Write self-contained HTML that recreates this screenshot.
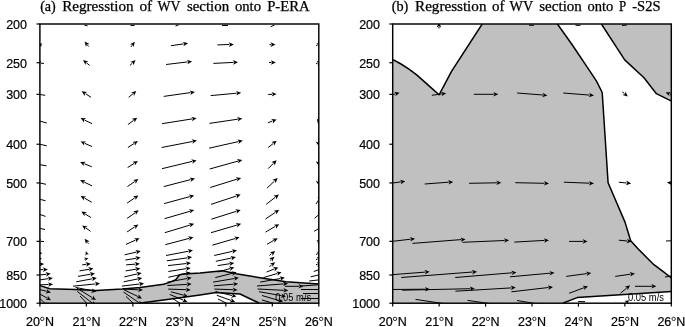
<!DOCTYPE html><html><head><meta charset="utf-8"><style>html,body{margin:0;padding:0;background:#fff;}svg{display:block;will-change:transform}</style></head><body>
<svg width="685" height="327" viewBox="0 0 685 327">
<defs>
<clipPath id="cl"><rect x="39.9" y="24.0" width="278.90000000000003" height="279.2"/></clipPath>
<clipPath id="cr"><rect x="392.7" y="24.0" width="278.59999999999997" height="279.2"/></clipPath>
</defs>
<rect x="0" y="0" width="685" height="327" fill="#fff"/>
<g clip-path="url(#cl)">
<polygon points="40.0,285.6 50.0,288.8 75.0,289.4 96.0,290.6 122.0,289.1 140.0,287.6 163.5,284.3 170.3,282.1 175.7,279.8 177.7,277.2 179.6,274.7 184.0,273.9 200.0,273.0 222.5,270.8 229.4,272.3 236.2,273.7 260.0,277.7 286.0,281.7 319.0,283.9 319.0,303.0 40.0,303.0" fill="#c0c0c0"/>
<polygon points="141.0,303.0 171.0,299.0 200.0,295.0 216.0,292.5 240.0,294.0 259.0,303.0" fill="#fff"/>
<polyline points="40.0,285.6 50.0,288.8 75.0,289.4 96.0,290.6 122.0,289.1 140.0,287.6 163.5,284.3 170.3,282.1 175.7,279.8 177.7,277.2 179.6,274.7 184.0,273.9 200.0,273.0 222.5,270.8 229.4,272.3 236.2,273.7 260.0,277.7 286.0,281.7 319.0,283.9" fill="none" stroke="#000" stroke-width="1.5" stroke-linejoin="round"/>
<polyline points="141.0,303.0 171.0,299.0 200.0,295.0 216.0,292.5 240.0,294.0 259.0,303.0" fill="none" stroke="#000" stroke-width="1.5" stroke-linejoin="round"/>
</g>
<g clip-path="url(#cr)">
<rect x="392.7" y="24.0" width="278.59999999999997" height="279.2" fill="#c0c0c0"/>
<polygon points="393.0,24.0 393.0,59.6 401.0,64.0 409.0,69.1 417.0,75.1 424.0,81.4 431.0,87.6 439.1,94.8 451.5,71.4 482.2,24.0" fill="#fff"/>
<polygon points="557.4,24.0 572.0,44.5 589.2,70.2 596.5,81.2 602.2,92.5 608.1,182.8 625.1,222.4 628.6,234.0 630.7,240.7 638.2,249.0 646.4,257.2 653.9,264.7 662.9,271.3 671.5,278.0 671.5,101.1 656.4,93.7 644.0,77.7 624.7,59.9 601.4,24.0" fill="#fff"/>
<polygon points="563.2,303.0 577.2,297.6 671.5,291.5 671.5,303.0" fill="#fff"/>
<polyline points="393.0,59.6 401.0,64.0 409.0,69.1 417.0,75.1 424.0,81.4 431.0,87.6 439.1,94.8 451.5,71.4 482.2,24.0" fill="none" stroke="#000" stroke-width="1.5" stroke-linejoin="round"/>
<polyline points="557.4,24.0 572.0,44.5 589.2,70.2 596.5,81.2 602.2,92.5 608.1,182.8 625.1,222.4 628.6,234.0 630.7,240.7 638.2,249.0 646.4,257.2 653.9,264.7 662.9,271.3 671.5,278.0" fill="none" stroke="#000" stroke-width="1.5" stroke-linejoin="round"/>
<polyline points="601.4,24.0 624.7,59.9 644.0,77.7 656.4,93.7 671.5,101.1" fill="none" stroke="#000" stroke-width="1.5" stroke-linejoin="round"/>
<polyline points="563.2,303.0 577.2,297.6 671.5,291.5" fill="none" stroke="#000" stroke-width="1.5" stroke-linejoin="round"/>
</g>
<g clip-path="url(#cl)">
<line x1="84.5" y1="25.3" x2="87.5" y2="25.8" stroke="#000" stroke-width="1"/>
<line x1="130.5" y1="25.5" x2="134.5" y2="25.5" stroke="#000" stroke-width="1"/>
<line x1="175.5" y1="26" x2="178.5" y2="25" stroke="#000" stroke-width="1"/>
<line x1="222" y1="25.5" x2="228" y2="25.5" stroke="#000" stroke-width="1"/>
<line x1="270.5" y1="26.8" x2="274.5" y2="25" stroke="#000" stroke-width="1"/>
<line x1="42.0" y1="45.2" x2="41.5" y2="45.1" stroke="#000" stroke-width="1.0"/><polygon points="38.0,44.0 42.6,43.4 41.0,44.9 41.4,47.0" fill="#000"/>
<line x1="88.6" y1="46.5" x2="87.4" y2="44.9" stroke="#000" stroke-width="1.0"/><polygon points="84.6,41.4 89.5,43.9 86.9,44.4 85.9,46.8" fill="#000"/>
<line x1="130.8" y1="47.0" x2="132.1" y2="45.3" stroke="#000" stroke-width="1.0"/><polygon points="134.8,41.7 133.6,47.1 132.5,44.7 130.0,44.3" fill="#000"/>
<line x1="170.9" y1="45.7" x2="183.6" y2="43.9" stroke="#000" stroke-width="1.0"/><polygon points="188.1,43.3 183.5,46.3 184.4,43.8 182.8,41.7" fill="#000"/>
<line x1="217.4" y1="44.9" x2="229.3" y2="44.5" stroke="#000" stroke-width="1.0"/><polygon points="233.8,44.4 228.9,46.9 230.1,44.5 228.7,42.3" fill="#000"/>
<line x1="269.5" y1="44.6" x2="271.0" y2="44.6" stroke="#000" stroke-width="1.0"/><polygon points="275.5,44.5 270.5,46.9 271.8,44.6 270.5,42.3" fill="#000"/>
<line x1="316.0" y1="45.5" x2="317.7" y2="44.9" stroke="#000" stroke-width="1.0"/><polygon points="322.0,43.5 318.0,47.3 318.4,44.7 316.5,42.9" fill="#000"/>
<line x1="44.0" y1="63.5" x2="40.5" y2="63.0" stroke="#000" stroke-width="1.0"/><polygon points="36.0,62.3 41.3,60.8 39.7,62.9 40.6,65.3" fill="#000"/>
<line x1="89.7" y1="65.4" x2="86.5" y2="62.9" stroke="#000" stroke-width="1.0"/><polygon points="83.0,60.1 88.3,61.4 85.9,62.4 85.5,65.0" fill="#000"/>
<line x1="130.0" y1="65.4" x2="132.3" y2="63.2" stroke="#000" stroke-width="1.0"/><polygon points="135.5,60.1 133.5,65.2 132.8,62.7 130.3,61.9" fill="#000"/>
<line x1="166.1" y1="64.5" x2="187.6" y2="61.9" stroke="#000" stroke-width="1.0"/><polygon points="192.1,61.4 187.4,64.3 188.4,61.8 186.9,59.7" fill="#000"/>
<line x1="213.4" y1="63.4" x2="233.5" y2="62.4" stroke="#000" stroke-width="1.0"/><polygon points="238.0,62.2 233.1,64.7 234.3,62.4 232.9,60.1" fill="#000"/>
<line x1="269.0" y1="62.5" x2="271.4" y2="62.5" stroke="#000" stroke-width="1.0"/><polygon points="275.9,62.5 270.9,64.8 272.1,62.5 270.9,60.2" fill="#000"/>
<line x1="316.0" y1="63.5" x2="317.6" y2="63.2" stroke="#000" stroke-width="1.0"/><polygon points="322.0,62.3 317.5,65.5 318.3,63.0 316.6,61.0" fill="#000"/>
<line x1="45.2" y1="95.3" x2="39.2" y2="94.4" stroke="#000" stroke-width="1.0"/><polygon points="34.8,93.7 40.1,92.2 38.5,94.3 39.4,96.7" fill="#000"/>
<line x1="91.0" y1="97.3" x2="85.5" y2="93.7" stroke="#000" stroke-width="1.0"/><polygon points="81.7,91.2 87.1,92.0 84.8,93.3 84.6,95.9" fill="#000"/>
<line x1="128.7" y1="97.3" x2="132.9" y2="93.8" stroke="#000" stroke-width="1.0"/><polygon points="136.3,90.9 134.0,95.9 133.4,93.3 131.0,92.4" fill="#000"/>
<line x1="163.7" y1="96.4" x2="190.5" y2="92.6" stroke="#000" stroke-width="1.0"/><polygon points="195.0,92.0 190.4,95.0 191.3,92.5 189.7,90.4" fill="#000"/>
<line x1="210.7" y1="95.6" x2="236.7" y2="93.2" stroke="#000" stroke-width="1.0"/><polygon points="241.2,92.8 236.4,95.5 237.5,93.1 236.0,91.0" fill="#000"/>
<line x1="268.2" y1="94.5" x2="272.1" y2="94.3" stroke="#000" stroke-width="1.0"/><polygon points="276.6,94.1 271.7,96.6 272.9,94.3 271.5,92.0" fill="#000"/>
<line x1="46.8" y1="123.0" x2="37.5" y2="120.4" stroke="#000" stroke-width="1.0"/><polygon points="33.2,119.2 38.6,118.3 36.8,120.2 37.4,122.8" fill="#000"/>
<line x1="92.1" y1="123.7" x2="84.6" y2="120.1" stroke="#000" stroke-width="1.0"/><polygon points="80.6,118.1 86.1,118.2 84.0,119.7 84.1,122.4" fill="#000"/>
<line x1="127.9" y1="124.6" x2="133.6" y2="120.4" stroke="#000" stroke-width="1.0"/><polygon points="137.2,117.7 134.6,122.5 134.2,119.9 131.8,118.8" fill="#000"/>
<line x1="162.0" y1="123.7" x2="192.2" y2="118.9" stroke="#000" stroke-width="1.0"/><polygon points="196.6,118.2 192.0,121.3 192.9,118.8 191.3,116.7" fill="#000"/>
<line x1="209.4" y1="123.4" x2="237.8" y2="119.2" stroke="#000" stroke-width="1.0"/><polygon points="242.3,118.5 237.7,121.5 238.6,119.1 237.0,117.0" fill="#000"/>
<line x1="267.9" y1="122.8" x2="272.4" y2="121.0" stroke="#000" stroke-width="1.0"/><polygon points="276.6,119.4 272.8,123.4 273.1,120.8 271.1,119.1" fill="#000"/>
<line x1="319.3" y1="117.5" x2="318.9" y2="119.6" stroke="#000" stroke-width="1.0"/><polygon points="318.0,124.0 316.7,118.6 318.7,120.3 321.2,119.5" fill="#000"/>
<line x1="46.8" y1="145.8" x2="37.6" y2="143.8" stroke="#000" stroke-width="1.0"/><polygon points="33.2,142.8 38.6,141.6 36.9,143.6 37.6,146.1" fill="#000"/>
<line x1="92.1" y1="146.6" x2="84.7" y2="143.3" stroke="#000" stroke-width="1.0"/><polygon points="80.6,141.4 86.1,141.4 84.0,142.9 84.2,145.6" fill="#000"/>
<line x1="127.9" y1="147.5" x2="134.1" y2="143.5" stroke="#000" stroke-width="1.0"/><polygon points="137.9,141.1 134.9,145.7 134.7,143.1 132.4,141.9" fill="#000"/>
<line x1="161.6" y1="147.5" x2="192.5" y2="141.5" stroke="#000" stroke-width="1.0"/><polygon points="196.9,140.6 192.4,143.8 193.2,141.3 191.6,139.3" fill="#000"/>
<line x1="209.1" y1="148.2" x2="238.4" y2="141.6" stroke="#000" stroke-width="1.0"/><polygon points="242.8,140.6 238.4,143.9 239.1,141.4 237.4,139.5" fill="#000"/>
<line x1="268.2" y1="147.5" x2="273.1" y2="143.6" stroke="#000" stroke-width="1.0"/><polygon points="276.6,140.8 274.1,145.7 273.7,143.1 271.3,142.1" fill="#000"/>
<line x1="318.8" y1="138.5" x2="318.8" y2="142.0" stroke="#000" stroke-width="1.0"/><polygon points="318.8,146.3 315.6,141.5 318.8,142.7 322.0,141.5" fill="#000"/>
<line x1="46.5" y1="165.8" x2="37.9" y2="164.4" stroke="#000" stroke-width="1.0"/><polygon points="33.5,163.6 38.8,162.2 37.2,164.2 38.0,166.7" fill="#000"/>
<line x1="91.8" y1="166.8" x2="84.3" y2="163.7" stroke="#000" stroke-width="1.0"/><polygon points="80.1,162.0 85.6,161.8 83.6,163.4 83.9,166.0" fill="#000"/>
<line x1="127.6" y1="167.6" x2="134.1" y2="163.4" stroke="#000" stroke-width="1.0"/><polygon points="137.9,161.0 134.9,165.6 134.7,163.0 132.4,161.8" fill="#000"/>
<line x1="162.0" y1="168.7" x2="192.2" y2="161.4" stroke="#000" stroke-width="1.0"/><polygon points="196.6,160.4 192.3,163.8 193.0,161.3 191.2,159.3" fill="#000"/>
<line x1="209.7" y1="169.0" x2="238.0" y2="161.1" stroke="#000" stroke-width="1.0"/><polygon points="242.3,159.9 238.1,163.5 238.7,160.9 236.9,159.0" fill="#000"/>
<line x1="268.2" y1="168.6" x2="273.4" y2="163.4" stroke="#000" stroke-width="1.0"/><polygon points="276.6,160.2 274.7,165.4 273.9,162.9 271.4,162.1" fill="#000"/>
<line x1="318.8" y1="158.5" x2="318.8" y2="161.7" stroke="#000" stroke-width="1.0"/><polygon points="318.8,166.0 315.8,161.2 318.8,162.4 321.8,161.2" fill="#000"/>
<line x1="46.0" y1="184.3" x2="38.4" y2="182.7" stroke="#000" stroke-width="1.0"/><polygon points="34.0,181.7 39.4,180.5 37.7,182.5 38.4,185.0" fill="#000"/>
<line x1="92.1" y1="185.9" x2="84.2" y2="182.1" stroke="#000" stroke-width="1.0"/><polygon points="80.1,180.1 85.6,180.2 83.5,181.7 83.6,184.3" fill="#000"/>
<line x1="127.4" y1="186.6" x2="134.7" y2="181.6" stroke="#000" stroke-width="1.0"/><polygon points="138.4,179.0 135.6,183.7 135.3,181.1 133.0,179.9" fill="#000"/>
<line x1="163.7" y1="186.6" x2="190.6" y2="179.6" stroke="#000" stroke-width="1.0"/><polygon points="195.0,178.5 190.7,182.0 191.4,179.4 189.6,177.5" fill="#000"/>
<line x1="210.2" y1="187.5" x2="236.9" y2="179.2" stroke="#000" stroke-width="1.0"/><polygon points="241.2,177.9 237.1,181.6 237.6,179.0 235.7,177.2" fill="#000"/>
<line x1="267.1" y1="188.0" x2="274.4" y2="181.2" stroke="#000" stroke-width="1.0"/><polygon points="277.7,178.1 275.6,183.2 275.0,180.7 272.5,179.8" fill="#000"/>
<line x1="318.8" y1="177.5" x2="318.8" y2="181.2" stroke="#000" stroke-width="1.0"/><polygon points="318.8,185.5 315.8,180.7 318.8,181.9 321.8,180.7" fill="#000"/>
<line x1="45.5" y1="200.7" x2="38.9" y2="199.1" stroke="#000" stroke-width="1.0"/><polygon points="34.5,198.1 39.9,197.0 38.1,199.0 38.8,201.5" fill="#000"/>
<line x1="91.8" y1="202.3" x2="84.5" y2="198.1" stroke="#000" stroke-width="1.0"/><polygon points="80.6,195.9 86.1,196.4 83.9,197.8 83.8,200.4" fill="#000"/>
<line x1="127.1" y1="203.1" x2="134.7" y2="197.9" stroke="#000" stroke-width="1.0"/><polygon points="138.4,195.4 135.6,200.1 135.3,197.5 133.0,196.3" fill="#000"/>
<line x1="164.1" y1="203.6" x2="189.9" y2="196.6" stroke="#000" stroke-width="1.0"/><polygon points="194.2,195.4 190.0,198.9 190.6,196.4 188.8,194.5" fill="#000"/>
<line x1="211.0" y1="204.4" x2="236.4" y2="196.0" stroke="#000" stroke-width="1.0"/><polygon points="240.7,194.6 236.7,198.4 237.1,195.8 235.2,194.0" fill="#000"/>
<line x1="266.2" y1="204.3" x2="275.3" y2="197.3" stroke="#000" stroke-width="1.0"/><polygon points="278.9,194.6 276.3,199.5 275.9,196.9 273.5,195.8" fill="#000"/>
<line x1="316.0" y1="204.0" x2="319.5" y2="198.7" stroke="#000" stroke-width="1.0"/><polygon points="322.0,195.0 321.1,200.4 319.9,198.1 317.3,197.9" fill="#000"/>
<line x1="45.5" y1="216.4" x2="38.8" y2="214.1" stroke="#000" stroke-width="1.0"/><polygon points="34.5,212.6 40.0,212.1 38.0,213.8 38.5,216.4" fill="#000"/>
<line x1="91.0" y1="217.6" x2="85.2" y2="214.0" stroke="#000" stroke-width="1.0"/><polygon points="81.4,211.6 86.9,212.3 84.6,213.6 84.4,216.2" fill="#000"/>
<line x1="127.1" y1="218.4" x2="135.0" y2="212.9" stroke="#000" stroke-width="1.0"/><polygon points="138.7,210.3 135.9,215.0 135.6,212.4 133.3,211.3" fill="#000"/>
<line x1="164.5" y1="218.7" x2="189.9" y2="211.3" stroke="#000" stroke-width="1.0"/><polygon points="194.2,210.0 190.0,213.6 190.6,211.1 188.8,209.2" fill="#000"/>
<line x1="211.3" y1="219.2" x2="236.4" y2="211.3" stroke="#000" stroke-width="1.0"/><polygon points="240.7,210.0 236.6,213.7 237.1,211.1 235.2,209.3" fill="#000"/>
<line x1="265.5" y1="219.0" x2="275.5" y2="212.3" stroke="#000" stroke-width="1.0"/><polygon points="279.2,209.8 276.3,214.5 276.1,211.9 273.8,210.7" fill="#000"/>
<line x1="314.5" y1="218.3" x2="320.1" y2="213.6" stroke="#000" stroke-width="1.0"/><polygon points="323.5,210.7 321.2,215.7 320.6,213.1 318.2,212.2" fill="#000"/>
<line x1="45.0" y1="229.5" x2="39.4" y2="228.3" stroke="#000" stroke-width="1.0"/><polygon points="35.0,227.3 40.4,226.1 38.7,228.1 39.4,230.6" fill="#000"/>
<line x1="90.7" y1="231.4" x2="85.9" y2="228.0" stroke="#000" stroke-width="1.0"/><polygon points="82.2,225.4 87.6,226.4 85.3,227.6 85.0,230.2" fill="#000"/>
<line x1="127.1" y1="231.9" x2="134.6" y2="227.0" stroke="#000" stroke-width="1.0"/><polygon points="138.4,224.6 135.4,229.2 135.3,226.6 133.0,225.4" fill="#000"/>
<line x1="164.8" y1="232.7" x2="189.9" y2="225.1" stroke="#000" stroke-width="1.0"/><polygon points="194.2,223.8 190.1,227.5 190.6,224.9 188.7,223.0" fill="#000"/>
<line x1="211.0" y1="232.7" x2="236.9" y2="225.1" stroke="#000" stroke-width="1.0"/><polygon points="241.2,223.8 237.1,227.4 237.6,224.9 235.8,223.0" fill="#000"/>
<line x1="265.5" y1="232.1" x2="275.3" y2="226.4" stroke="#000" stroke-width="1.0"/><polygon points="279.2,224.2 276.0,228.7 276.0,226.1 273.7,224.7" fill="#000"/>
<line x1="314.1" y1="231.3" x2="320.0" y2="227.8" stroke="#000" stroke-width="1.0"/><polygon points="323.9,225.5 320.8,230.0 320.7,227.4 318.4,226.1" fill="#000"/>
<line x1="44.0" y1="241.5" x2="40.5" y2="241.3" stroke="#000" stroke-width="1.0"/><polygon points="36.0,241.1 41.1,239.1 39.7,241.3 40.9,243.6" fill="#000"/>
<line x1="88.6" y1="243.6" x2="87.5" y2="242.3" stroke="#000" stroke-width="1.0"/><polygon points="84.6,238.8 89.6,241.2 87.0,241.7 86.0,244.1" fill="#000"/>
<line x1="126.0" y1="244.4" x2="135.4" y2="240.2" stroke="#000" stroke-width="1.0"/><polygon points="139.5,238.3 135.9,242.5 136.1,239.8 134.0,238.3" fill="#000"/>
<line x1="165.3" y1="244.7" x2="189.1" y2="238.4" stroke="#000" stroke-width="1.0"/><polygon points="193.4,237.2 189.2,240.7 189.8,238.2 188.0,236.3" fill="#000"/>
<line x1="212.3" y1="245.2" x2="235.3" y2="238.5" stroke="#000" stroke-width="1.0"/><polygon points="239.6,237.2 235.4,240.8 236.0,238.3 234.2,236.4" fill="#000"/>
<line x1="267.0" y1="244.3" x2="273.8" y2="240.4" stroke="#000" stroke-width="1.0"/><polygon points="277.7,238.2 274.5,242.7 274.4,240.1 272.2,238.7" fill="#000"/>
<line x1="317.0" y1="242.0" x2="317.5" y2="241.8" stroke="#000" stroke-width="1.0"/><polygon points="321.0,240.5 317.7,243.8 318.0,241.6 316.3,240.2" fill="#000"/>
<line x1="37.5" y1="253.2" x2="38.0" y2="253.2" stroke="#000" stroke-width="1.0"/><polygon points="42.5,253.2 37.5,255.5 38.8,253.2 37.5,250.9" fill="#000"/>
<line x1="87.2" y1="255.0" x2="87.0" y2="254.6" stroke="#000" stroke-width="1.0"/><polygon points="85.8,251.3 88.9,254.4 86.9,254.1 85.5,255.7" fill="#000"/>
<line x1="124.7" y1="254.8" x2="136.4" y2="252.1" stroke="#000" stroke-width="1.0"/><polygon points="140.8,251.1 136.4,254.5 137.1,251.9 135.4,250.0" fill="#000"/>
<line x1="166.1" y1="255.5" x2="188.6" y2="251.2" stroke="#000" stroke-width="1.0"/><polygon points="193.0,250.3 188.5,253.5 189.3,251.0 187.7,249.0" fill="#000"/>
<line x1="214.2" y1="255.5" x2="232.6" y2="251.3" stroke="#000" stroke-width="1.0"/><polygon points="237.0,250.3 232.6,253.7 233.3,251.1 231.6,249.2" fill="#000"/>
<line x1="269.4" y1="255.4" x2="271.6" y2="253.7" stroke="#000" stroke-width="1.0"/><polygon points="275.2,251.0 272.6,255.9 272.2,253.3 269.8,252.2" fill="#000"/>
<line x1="316.0" y1="254.5" x2="317.8" y2="253.7" stroke="#000" stroke-width="1.0"/><polygon points="322.0,252.0 318.3,256.0 318.5,253.4 316.5,251.8" fill="#000"/>
<line x1="38.0" y1="259.0" x2="38.5" y2="258.9" stroke="#000" stroke-width="1.0"/><polygon points="42.0,258.5 38.2,260.8 39.0,258.9 37.8,257.2" fill="#000"/>
<line x1="84.6" y1="259.2" x2="85.0" y2="259.1" stroke="#000" stroke-width="1.0"/><polygon points="88.4,258.2 85.0,261.0 85.5,259.0 84.1,257.4" fill="#000"/>
<line x1="125.4" y1="260.0" x2="136.2" y2="258.3" stroke="#000" stroke-width="1.0"/><polygon points="140.6,257.6 136.0,260.7 136.9,258.2 135.3,256.1" fill="#000"/>
<line x1="166.9" y1="260.8" x2="187.6" y2="257.8" stroke="#000" stroke-width="1.0"/><polygon points="192.1,257.1 187.5,260.1 188.4,257.6 186.8,255.6" fill="#000"/>
<line x1="215.8" y1="261.3" x2="231.5" y2="258.0" stroke="#000" stroke-width="1.0"/><polygon points="235.9,257.1 231.5,260.4 232.2,257.9 230.5,255.9" fill="#000"/>
<line x1="270.0" y1="260.5" x2="271.0" y2="259.7" stroke="#000" stroke-width="1.0"/><polygon points="274.5,256.8 272.1,261.8 271.6,259.2 269.2,258.2" fill="#000"/>
<line x1="316.0" y1="259.5" x2="317.6" y2="259.1" stroke="#000" stroke-width="1.0"/><polygon points="322.0,258.0 317.7,261.4 318.4,258.9 316.6,257.0" fill="#000"/>
<line x1="35.8" y1="264.5" x2="39.7" y2="264.3" stroke="#000" stroke-width="1.0"/><polygon points="44.2,264.1 39.3,266.6 40.5,264.3 39.1,262.0" fill="#000"/>
<line x1="82.2" y1="264.9" x2="86.3" y2="264.3" stroke="#000" stroke-width="1.0"/><polygon points="90.8,263.7 86.2,266.7 87.1,264.2 85.5,262.1" fill="#000"/>
<line x1="126.1" y1="264.9" x2="135.4" y2="264.1" stroke="#000" stroke-width="1.0"/><polygon points="139.9,263.7 135.1,266.4 136.2,264.0 134.7,261.8" fill="#000"/>
<line x1="168.0" y1="265.6" x2="186.5" y2="263.5" stroke="#000" stroke-width="1.0"/><polygon points="191.0,263.0 186.3,265.8 187.3,263.4 185.8,261.3" fill="#000"/>
<line x1="217.7" y1="265.6" x2="229.9" y2="263.7" stroke="#000" stroke-width="1.0"/><polygon points="234.3,263.0 229.7,266.0 230.6,263.6 229.0,261.5" fill="#000"/>
<line x1="269.4" y1="266.6" x2="271.6" y2="265.0" stroke="#000" stroke-width="1.0"/><polygon points="275.2,262.3 272.6,267.1 272.2,264.5 269.8,263.4" fill="#000"/>
<line x1="316.0" y1="264.5" x2="317.5" y2="264.4" stroke="#000" stroke-width="1.0"/><polygon points="322.0,264.0 317.2,266.7 318.3,264.3 316.8,262.1" fill="#000"/>
<line x1="32.1" y1="270.0" x2="43.4" y2="269.6" stroke="#000" stroke-width="1.0"/><polygon points="47.9,269.4 43.0,271.9 44.2,269.5 42.8,267.3" fill="#000"/>
<line x1="79.5" y1="270.9" x2="89.1" y2="269.3" stroke="#000" stroke-width="1.0"/><polygon points="93.5,268.5 89.0,271.6 89.8,269.1 88.2,267.1" fill="#000"/>
<line x1="125.6" y1="270.9" x2="136.0" y2="269.2" stroke="#000" stroke-width="1.0"/><polygon points="140.4,268.5 135.8,271.6 136.7,269.1 135.1,267.0" fill="#000"/>
<line x1="168.3" y1="271.5" x2="186.3" y2="268.6" stroke="#000" stroke-width="1.0"/><polygon points="190.7,267.9 186.1,271.0 187.0,268.5 185.4,266.4" fill="#000"/>
<line x1="217.7" y1="272.0" x2="230.0" y2="268.6" stroke="#000" stroke-width="1.0"/><polygon points="234.3,267.4 230.1,271.0 230.7,268.4 228.9,266.5" fill="#000"/>
<line x1="266.6" y1="272.0" x2="274.2" y2="269.0" stroke="#000" stroke-width="1.0"/><polygon points="278.4,267.4 274.6,271.4 274.9,268.8 272.9,267.1" fill="#000"/>
<line x1="313.8" y1="271.5" x2="319.9" y2="269.4" stroke="#000" stroke-width="1.0"/><polygon points="324.2,268.0 320.2,271.8 320.6,269.2 318.7,267.4" fill="#000"/>
<line x1="29.2" y1="276.0" x2="46.3" y2="274.3" stroke="#000" stroke-width="1.0"/><polygon points="50.8,273.8 46.1,276.6 47.1,274.2 45.6,272.0" fill="#000"/>
<line x1="78.0" y1="276.4" x2="90.6" y2="274.2" stroke="#000" stroke-width="1.0"/><polygon points="95.0,273.4 90.5,276.5 91.3,274.1 89.7,272.0" fill="#000"/>
<line x1="124.3" y1="276.9" x2="137.3" y2="273.9" stroke="#000" stroke-width="1.0"/><polygon points="141.7,272.9 137.3,276.3 138.0,273.7 136.3,271.8" fill="#000"/>
<line x1="168.3" y1="277.3" x2="186.3" y2="273.4" stroke="#000" stroke-width="1.0"/><polygon points="190.7,272.5 186.3,275.8 187.0,273.3 185.3,271.3" fill="#000"/>
<line x1="215.3" y1="277.6" x2="232.3" y2="273.3" stroke="#000" stroke-width="1.0"/><polygon points="236.7,272.2 232.4,275.7 233.1,273.1 231.3,271.2" fill="#000"/>
<line x1="263.4" y1="277.6" x2="277.3" y2="273.5" stroke="#000" stroke-width="1.0"/><polygon points="281.6,272.2 277.5,275.8 278.0,273.3 276.2,271.4" fill="#000"/>
<line x1="310.7" y1="276.8" x2="322.9" y2="274.0" stroke="#000" stroke-width="1.0"/><polygon points="327.3,273.0 322.9,276.4 323.6,273.8 321.9,271.9" fill="#000"/>
<line x1="27.1" y1="281.9" x2="48.5" y2="278.6" stroke="#000" stroke-width="1.0"/><polygon points="52.9,277.9 48.3,280.9 49.2,278.5 47.6,276.4" fill="#000"/>
<line x1="76.2" y1="281.8" x2="92.4" y2="278.8" stroke="#000" stroke-width="1.0"/><polygon points="96.8,278.0 92.3,281.2 93.1,278.7 91.5,276.6" fill="#000"/>
<line x1="123.7" y1="281.8" x2="137.9" y2="278.9" stroke="#000" stroke-width="1.0"/><polygon points="142.3,278.0 137.9,281.3 138.6,278.8 136.9,276.7" fill="#000"/>
<line x1="167.4" y1="282.1" x2="187.2" y2="278.5" stroke="#000" stroke-width="1.0"/><polygon points="191.6,277.7 187.1,280.9 187.9,278.4 186.3,276.3" fill="#000"/>
<line x1="213.1" y1="282.1" x2="234.5" y2="278.5" stroke="#000" stroke-width="1.0"/><polygon points="238.9,277.7 234.4,280.8 235.2,278.3 233.6,276.3" fill="#000"/>
<line x1="260.1" y1="282.1" x2="280.5" y2="278.5" stroke="#000" stroke-width="1.0"/><polygon points="284.9,277.7 280.4,280.8 281.2,278.4 279.6,276.3" fill="#000"/>
<line x1="309.2" y1="281.0" x2="324.3" y2="279.3" stroke="#000" stroke-width="1.0"/><polygon points="328.8,278.8 324.1,281.6 325.1,279.2 323.6,277.1" fill="#000"/>
<line x1="26.9" y1="285.3" x2="48.6" y2="284.5" stroke="#000" stroke-width="1.0"/><polygon points="53.1,284.3 48.2,286.8 49.4,284.4 48.0,282.2" fill="#000"/>
<line x1="73.0" y1="286.2" x2="95.5" y2="283.9" stroke="#000" stroke-width="1.0"/><polygon points="100.0,283.4 95.3,286.2 96.3,283.8 94.8,281.6" fill="#000"/>
<line x1="121.9" y1="286.1" x2="139.6" y2="284.0" stroke="#000" stroke-width="1.0"/><polygon points="144.1,283.5 139.4,286.4 140.4,283.9 138.9,281.8" fill="#000"/>
<line x1="167.4" y1="285.5" x2="187.1" y2="284.4" stroke="#000" stroke-width="1.0"/><polygon points="191.6,284.1 186.7,286.7 187.9,284.3 186.5,282.1" fill="#000"/>
<line x1="213.8" y1="285.8" x2="233.7" y2="284.2" stroke="#000" stroke-width="1.0"/><polygon points="238.2,283.8 233.4,286.5 234.5,284.1 233.0,281.9" fill="#000"/>
<line x1="257.0" y1="286.0" x2="283.5" y2="283.9" stroke="#000" stroke-width="1.0"/><polygon points="288.0,283.5 283.2,286.2 284.3,283.8 282.8,281.6" fill="#000"/>
<line x1="301.0" y1="286.0" x2="332.5" y2="283.9" stroke="#000" stroke-width="1.0"/><polygon points="337.0,283.6 332.2,286.2 333.3,283.8 331.9,281.6" fill="#000"/>
<line x1="29.0" y1="286.8" x2="46.6" y2="291.3" stroke="#000" stroke-width="1.0"/><polygon points="51.0,292.4 45.6,293.4 47.4,291.5 46.7,288.9" fill="#000"/>
<line x1="75.5" y1="287.4" x2="92.1" y2="290.7" stroke="#000" stroke-width="1.0"/><polygon points="96.5,291.6 91.1,292.9 92.8,290.9 92.0,288.4" fill="#000"/>
<line x1="123.0" y1="289.0" x2="138.5" y2="289.8" stroke="#000" stroke-width="1.0"/><polygon points="143.0,290.0 137.9,292.0 139.3,289.8 138.1,287.5" fill="#000"/>
<line x1="168.2" y1="289.1" x2="186.3" y2="289.7" stroke="#000" stroke-width="1.0"/><polygon points="190.8,289.9 185.7,292.0 187.1,289.8 185.9,287.4" fill="#000"/>
<line x1="214.4" y1="289.1" x2="233.1" y2="289.7" stroke="#000" stroke-width="1.0"/><polygon points="237.6,289.9 232.5,292.0 233.9,289.8 232.7,287.4" fill="#000"/>
<line x1="257.6" y1="289.0" x2="283.8" y2="290.3" stroke="#000" stroke-width="1.0"/><polygon points="288.3,290.5 283.2,292.6 284.6,290.3 283.4,288.0" fill="#000"/>
<line x1="301.0" y1="289.5" x2="332.5" y2="289.5" stroke="#000" stroke-width="1.0"/><polygon points="337.0,289.5 332.0,291.8 333.2,289.5 332.0,287.2" fill="#000"/>
<line x1="29.0" y1="287.9" x2="47.1" y2="298.1" stroke="#000" stroke-width="1.0"/><polygon points="51.0,300.3 45.5,299.8 47.7,298.5 47.8,295.8" fill="#000"/>
<line x1="77.0" y1="288.2" x2="92.2" y2="297.6" stroke="#000" stroke-width="1.0"/><polygon points="96.0,300.0 90.5,299.3 92.8,298.0 93.0,295.4" fill="#000"/>
<line x1="124.0" y1="289.8" x2="137.9" y2="296.5" stroke="#000" stroke-width="1.0"/><polygon points="142.0,298.4 136.5,298.3 138.6,296.8 138.5,294.2" fill="#000"/>
<line x1="170.9" y1="291.8" x2="183.8" y2="295.2" stroke="#000" stroke-width="1.0"/><polygon points="188.1,296.4 182.7,297.3 184.5,295.4 183.9,292.9" fill="#000"/>
<line x1="215.6" y1="291.6" x2="232.0" y2="295.5" stroke="#000" stroke-width="1.0"/><polygon points="236.4,296.6 231.0,297.7 232.8,295.7 232.1,293.2" fill="#000"/>
<line x1="259.0" y1="291.7" x2="281.6" y2="295.7" stroke="#000" stroke-width="1.0"/><polygon points="286.0,296.5 280.7,297.9 282.3,295.8 281.5,293.4" fill="#000"/>
<line x1="303.0" y1="293.5" x2="332.5" y2="293.5" stroke="#000" stroke-width="1.0"/><polygon points="337.0,293.5 332.0,295.8 333.2,293.5 332.0,291.2" fill="#000"/>
<line x1="31.0" y1="290.1" x2="45.7" y2="304.0" stroke="#000" stroke-width="1.0"/><polygon points="49.0,307.1 43.8,305.3 46.3,304.5 46.9,302.0" fill="#000"/>
<line x1="77.2" y1="291.4" x2="92.2" y2="303.0" stroke="#000" stroke-width="1.0"/><polygon points="95.8,305.8 90.4,304.6 92.8,303.5 93.3,300.9" fill="#000"/>
<line x1="123.5" y1="292.0" x2="138.8" y2="302.6" stroke="#000" stroke-width="1.0"/><polygon points="142.5,305.2 137.1,304.2 139.4,303.1 139.7,300.5" fill="#000"/>
<line x1="169.7" y1="294.4" x2="183.4" y2="300.2" stroke="#000" stroke-width="1.0"/><polygon points="187.5,302.0 182.0,302.2 184.1,300.5 183.8,297.9" fill="#000"/>
<line x1="216.8" y1="295.3" x2="231.0" y2="300.4" stroke="#000" stroke-width="1.0"/><polygon points="235.2,301.9 229.7,302.4 231.7,300.6 231.3,298.0" fill="#000"/>
<line x1="262.0" y1="295.5" x2="278.7" y2="300.4" stroke="#000" stroke-width="1.0"/><polygon points="283.0,301.7 277.6,302.5 279.4,300.6 278.9,298.1" fill="#000"/>
<line x1="301.0" y1="298.5" x2="332.5" y2="298.5" stroke="#000" stroke-width="1.0"/><polygon points="337.0,298.5 332.0,300.8 333.2,298.5 332.0,296.2" fill="#000"/>
<line x1="33.0" y1="296.0" x2="43.8" y2="306.8" stroke="#000" stroke-width="1.0"/><polygon points="47.0,310.0 41.8,308.1 44.3,307.3 45.1,304.8" fill="#000"/>
<line x1="80.0" y1="296.0" x2="89.9" y2="306.7" stroke="#000" stroke-width="1.0"/><polygon points="93.0,310.0 87.9,307.9 90.4,307.3 91.3,304.8" fill="#000"/>
<line x1="126.0" y1="296.5" x2="136.7" y2="306.4" stroke="#000" stroke-width="1.0"/><polygon points="140.0,309.5 134.8,307.8 137.3,306.9 137.9,304.4" fill="#000"/>
<line x1="172.0" y1="298.0" x2="183.3" y2="305.5" stroke="#000" stroke-width="1.0"/><polygon points="187.0,308.0 181.6,307.1 183.9,305.9 184.1,303.3" fill="#000"/>
<line x1="218.0" y1="299.0" x2="230.0" y2="305.0" stroke="#000" stroke-width="1.0"/><polygon points="234.0,307.0 228.5,306.8 230.6,305.3 230.6,302.7" fill="#000"/>
<line x1="262.0" y1="300.0" x2="278.7" y2="304.8" stroke="#000" stroke-width="1.0"/><polygon points="283.0,306.0 277.6,306.8 279.4,305.0 278.8,302.4" fill="#000"/>
<line x1="285.0" y1="286.3" x2="299.0" y2="286.3" stroke="#000" stroke-width="1.0"/><polygon points="303.5,286.3 298.5,288.6 299.8,286.3 298.5,284.0" fill="#000"/>
</g>
<g clip-path="url(#cr)">
<line x1="439.0" y1="28.5" x2="439.0" y2="27.0" stroke="#000" stroke-width="1.0"/><polygon points="439.0,22.5 441.3,27.5 439.0,26.2 436.7,27.5" fill="#000"/>
<line x1="529" y1="25.3" x2="534" y2="25.3" stroke="#000" stroke-width="1"/>
<line x1="575.5" y1="25.3" x2="580.5" y2="25.3" stroke="#000" stroke-width="1"/>
<line x1="622" y1="25.5" x2="627" y2="25" stroke="#000" stroke-width="1"/>
<line x1="386.4" y1="96.3" x2="395.3" y2="93.9" stroke="#000" stroke-width="1.0"/><polygon points="399.6,92.7 395.4,96.2 396.0,93.7 394.2,91.8" fill="#000"/>
<line x1="431.9" y1="95.3" x2="441.7" y2="93.9" stroke="#000" stroke-width="1.0"/><polygon points="446.2,93.3 441.6,96.3 442.5,93.8 440.9,91.7" fill="#000"/>
<line x1="473.8" y1="94.3" x2="493.8" y2="94.3" stroke="#000" stroke-width="1.0"/><polygon points="498.3,94.3 493.3,96.6 494.6,94.3 493.3,92.0" fill="#000"/>
<line x1="517.1" y1="93.0" x2="542.9" y2="95.0" stroke="#000" stroke-width="1.0"/><polygon points="547.4,95.4 542.2,97.3 543.7,95.1 542.6,92.7" fill="#000"/>
<line x1="563.2" y1="93.0" x2="589.5" y2="95.1" stroke="#000" stroke-width="1.0"/><polygon points="594.0,95.4 588.8,97.3 590.3,95.1 589.2,92.7" fill="#000"/>
<line x1="622.3" y1="91.8" x2="624.4" y2="93.6" stroke="#000" stroke-width="1.0"/><polygon points="627.8,96.6 622.5,95.0 625.0,94.1 625.5,91.6" fill="#000"/>
<line x1="677.0" y1="96.5" x2="669.8" y2="94.0" stroke="#000" stroke-width="1.0"/><polygon points="665.5,92.5 671.0,92.0 669.0,93.7 669.5,96.3" fill="#000"/>
<line x1="380.7" y1="184.7" x2="400.8" y2="181.9" stroke="#000" stroke-width="1.0"/><polygon points="405.3,181.3 400.7,184.3 401.6,181.8 400.0,179.7" fill="#000"/>
<line x1="424.7" y1="184.0" x2="448.8" y2="182.2" stroke="#000" stroke-width="1.0"/><polygon points="453.3,181.9 448.5,184.6 449.6,182.2 448.1,180.0" fill="#000"/>
<line x1="469.1" y1="183.3" x2="496.9" y2="182.8" stroke="#000" stroke-width="1.0"/><polygon points="501.4,182.7 496.4,185.1 497.7,182.8 496.4,180.5" fill="#000"/>
<line x1="515.2" y1="182.7" x2="544.5" y2="183.3" stroke="#000" stroke-width="1.0"/><polygon points="549.0,183.4 544.0,185.6 545.3,183.3 544.0,181.0" fill="#000"/>
<line x1="563.9" y1="182.2" x2="589.5" y2="183.2" stroke="#000" stroke-width="1.0"/><polygon points="594.0,183.4 588.9,185.5 590.3,183.3 589.1,180.9" fill="#000"/>
<line x1="618.8" y1="182.2" x2="626.6" y2="183.0" stroke="#000" stroke-width="1.0"/><polygon points="631.1,183.4 625.9,185.2 627.4,183.0 626.3,180.6" fill="#000"/>
<line x1="676.0" y1="183.5" x2="671.5" y2="183.0" stroke="#000" stroke-width="1.0"/><polygon points="667.0,182.5 672.2,180.8 670.7,182.9 671.7,185.3" fill="#000"/>
<line x1="370.9" y1="243.9" x2="410.6" y2="239.2" stroke="#000" stroke-width="1.0"/><polygon points="415.1,238.7 410.4,241.6 411.4,239.1 409.9,237.0" fill="#000"/>
<line x1="412.5" y1="243.4" x2="461.1" y2="239.6" stroke="#000" stroke-width="1.0"/><polygon points="465.6,239.3 460.8,242.0 461.9,239.6 460.4,237.4" fill="#000"/>
<line x1="462.5" y1="242.3" x2="504.6" y2="240.5" stroke="#000" stroke-width="1.0"/><polygon points="509.1,240.3 504.2,242.8 505.4,240.5 504.0,238.2" fill="#000"/>
<line x1="514.3" y1="242.1" x2="544.5" y2="240.4" stroke="#000" stroke-width="1.0"/><polygon points="549.0,240.2 544.1,242.8 545.3,240.4 543.9,238.2" fill="#000"/>
<line x1="569.1" y1="241.4" x2="583.1" y2="241.4" stroke="#000" stroke-width="1.0"/><polygon points="587.6,241.4 582.6,243.7 583.9,241.4 582.6,239.1" fill="#000"/>
<line x1="618.8" y1="240.2" x2="627.3" y2="241.0" stroke="#000" stroke-width="1.0"/><polygon points="631.8,241.4 626.6,243.2 628.1,241.1 627.0,238.7" fill="#000"/>
<line x1="666.0" y1="241.0" x2="672.5" y2="240.7" stroke="#000" stroke-width="1.0"/><polygon points="677.0,240.5 672.1,243.0 673.3,240.7 671.9,238.4" fill="#000"/>
<line x1="356.3" y1="277.5" x2="425.2" y2="272.1" stroke="#000" stroke-width="1.0"/><polygon points="429.7,271.7 424.9,274.4 426.0,272.0 424.5,269.8" fill="#000"/>
<line x1="401.2" y1="277.5" x2="472.6" y2="272.0" stroke="#000" stroke-width="1.0"/><polygon points="477.1,271.7 472.3,274.4 473.4,272.0 471.9,269.8" fill="#000"/>
<line x1="455.2" y1="277.5" x2="512.0" y2="272.8" stroke="#000" stroke-width="1.0"/><polygon points="516.5,272.4 511.7,275.1 512.8,272.7 511.3,270.5" fill="#000"/>
<line x1="510.0" y1="276.8" x2="550.0" y2="273.2" stroke="#000" stroke-width="1.0"/><polygon points="554.5,272.8 549.7,275.5 550.8,273.1 549.3,271.0" fill="#000"/>
<line x1="566.2" y1="276.4" x2="586.8" y2="273.6" stroke="#000" stroke-width="1.0"/><polygon points="591.3,273.0 586.7,276.0 587.6,273.5 586.0,271.4" fill="#000"/>
<line x1="615.2" y1="276.4" x2="630.5" y2="274.2" stroke="#000" stroke-width="1.0"/><polygon points="635.0,273.6 630.4,276.6 631.3,274.1 629.7,272.0" fill="#000"/>
<line x1="665.0" y1="277.0" x2="673.6" y2="275.7" stroke="#000" stroke-width="1.0"/><polygon points="678.0,275.0 673.4,278.0 674.3,275.6 672.7,273.5" fill="#000"/>
<line x1="356.0" y1="289.8" x2="425.5" y2="289.2" stroke="#000" stroke-width="1.0"/><polygon points="430.0,289.2 425.0,291.5 426.3,289.2 425.0,286.9" fill="#000"/>
<line x1="402.2" y1="290.2" x2="470.3" y2="288.7" stroke="#000" stroke-width="1.0"/><polygon points="474.8,288.6 469.9,291.0 471.1,288.7 469.8,286.4" fill="#000"/>
<line x1="455.4" y1="291.2" x2="511.3" y2="287.9" stroke="#000" stroke-width="1.0"/><polygon points="515.8,287.6 510.9,290.2 512.1,287.8 510.7,285.6" fill="#000"/>
<line x1="511.4" y1="291.8" x2="548.5" y2="287.5" stroke="#000" stroke-width="1.0"/><polygon points="553.0,287.0 548.3,289.9 549.3,287.4 547.8,285.3" fill="#000"/>
<line x1="569.1" y1="293.3" x2="583.8" y2="287.8" stroke="#000" stroke-width="1.0"/><polygon points="588.0,286.2 584.1,290.1 584.5,287.5 582.5,285.8" fill="#000"/>
<line x1="620.5" y1="293.2" x2="626.6" y2="288.2" stroke="#000" stroke-width="1.0"/><polygon points="630.1,285.3 627.7,290.3 627.2,287.7 624.8,286.7" fill="#000"/>
<line x1="415.5" y1="299.4" x2="458.9" y2="305.9" stroke="#000" stroke-width="1.0"/><polygon points="463.3,306.6 458.0,308.1 459.6,306.0 458.7,303.6" fill="#000"/>
<line x1="467.6" y1="300.4" x2="499.5" y2="305.0" stroke="#000" stroke-width="1.0"/><polygon points="504.0,305.6 498.7,307.2 500.3,305.1 499.4,302.6" fill="#000"/>
<line x1="517.0" y1="300.5" x2="542.6" y2="304.8" stroke="#000" stroke-width="1.0"/><polygon points="547.0,305.5 541.7,306.9 543.3,304.9 542.4,302.4" fill="#000"/>
<line x1="578" y1="301.6" x2="585" y2="301.6" stroke="#000" stroke-width="1"/>
<line x1="624.5" y1="304.0" x2="626.3" y2="302.5" stroke="#000" stroke-width="1.0"/><polygon points="629.0,300.3 627.4,304.6 626.7,302.2 624.4,301.1" fill="#000"/>
<line x1="635.0" y1="286.3" x2="651.9" y2="286.3" stroke="#000" stroke-width="1.0"/><polygon points="656.4,286.3 651.4,288.6 652.6,286.3 651.4,284.0" fill="#000"/>
</g>
<rect x="39.9" y="24.0" width="278.90000000000003" height="279.2" fill="none" stroke="#000" stroke-width="1.45"/>
<line x1="36.5" y1="24.00" x2="39.9" y2="24.00" stroke="#000" stroke-width="1.2"/>
<line x1="36.5" y1="62.71" x2="39.9" y2="62.71" stroke="#000" stroke-width="1.2"/>
<line x1="36.5" y1="94.34" x2="39.9" y2="94.34" stroke="#000" stroke-width="1.2"/>
<line x1="36.5" y1="144.24" x2="39.9" y2="144.24" stroke="#000" stroke-width="1.2"/>
<line x1="36.5" y1="182.96" x2="39.9" y2="182.96" stroke="#000" stroke-width="1.2"/>
<line x1="36.5" y1="241.33" x2="39.9" y2="241.33" stroke="#000" stroke-width="1.2"/>
<line x1="36.5" y1="275.01" x2="39.9" y2="275.01" stroke="#000" stroke-width="1.2"/>
<line x1="36.5" y1="303.20" x2="39.9" y2="303.20" stroke="#000" stroke-width="1.2"/>
<line x1="39.90" y1="303.2" x2="39.90" y2="306.59999999999997" stroke="#000" stroke-width="1.2"/>
<line x1="86.38" y1="303.2" x2="86.38" y2="306.59999999999997" stroke="#000" stroke-width="1.2"/>
<line x1="132.87" y1="303.2" x2="132.87" y2="306.59999999999997" stroke="#000" stroke-width="1.2"/>
<line x1="179.35" y1="303.2" x2="179.35" y2="306.59999999999997" stroke="#000" stroke-width="1.2"/>
<line x1="225.83" y1="303.2" x2="225.83" y2="306.59999999999997" stroke="#000" stroke-width="1.2"/>
<line x1="272.32" y1="303.2" x2="272.32" y2="306.59999999999997" stroke="#000" stroke-width="1.2"/>
<line x1="318.80" y1="303.2" x2="318.80" y2="306.59999999999997" stroke="#000" stroke-width="1.2"/>
<rect x="392.7" y="24.0" width="278.59999999999997" height="279.2" fill="none" stroke="#000" stroke-width="1.45"/>
<line x1="389.3" y1="24.00" x2="392.7" y2="24.00" stroke="#000" stroke-width="1.2"/>
<line x1="389.3" y1="62.71" x2="392.7" y2="62.71" stroke="#000" stroke-width="1.2"/>
<line x1="389.3" y1="94.34" x2="392.7" y2="94.34" stroke="#000" stroke-width="1.2"/>
<line x1="389.3" y1="144.24" x2="392.7" y2="144.24" stroke="#000" stroke-width="1.2"/>
<line x1="389.3" y1="182.96" x2="392.7" y2="182.96" stroke="#000" stroke-width="1.2"/>
<line x1="389.3" y1="241.33" x2="392.7" y2="241.33" stroke="#000" stroke-width="1.2"/>
<line x1="389.3" y1="275.01" x2="392.7" y2="275.01" stroke="#000" stroke-width="1.2"/>
<line x1="389.3" y1="303.20" x2="392.7" y2="303.20" stroke="#000" stroke-width="1.2"/>
<line x1="392.70" y1="303.2" x2="392.70" y2="306.59999999999997" stroke="#000" stroke-width="1.2"/>
<line x1="439.13" y1="303.2" x2="439.13" y2="306.59999999999997" stroke="#000" stroke-width="1.2"/>
<line x1="485.57" y1="303.2" x2="485.57" y2="306.59999999999997" stroke="#000" stroke-width="1.2"/>
<line x1="532.00" y1="303.2" x2="532.00" y2="306.59999999999997" stroke="#000" stroke-width="1.2"/>
<line x1="578.43" y1="303.2" x2="578.43" y2="306.59999999999997" stroke="#000" stroke-width="1.2"/>
<line x1="624.87" y1="303.2" x2="624.87" y2="306.59999999999997" stroke="#000" stroke-width="1.2"/>
<line x1="671.30" y1="303.2" x2="671.30" y2="306.59999999999997" stroke="#000" stroke-width="1.2"/>
<text x="27" y="29.1" font-family="Liberation Sans, sans-serif" font-size="12.5" text-anchor="end" fill="#000" stroke="#000" stroke-width="0.2">200</text>
<text x="27" y="67.8" font-family="Liberation Sans, sans-serif" font-size="12.5" text-anchor="end" fill="#000" stroke="#000" stroke-width="0.2">250</text>
<text x="27" y="99.4" font-family="Liberation Sans, sans-serif" font-size="12.5" text-anchor="end" fill="#000" stroke="#000" stroke-width="0.2">300</text>
<text x="27" y="149.3" font-family="Liberation Sans, sans-serif" font-size="12.5" text-anchor="end" fill="#000" stroke="#000" stroke-width="0.2">400</text>
<text x="27" y="188.1" font-family="Liberation Sans, sans-serif" font-size="12.5" text-anchor="end" fill="#000" stroke="#000" stroke-width="0.2">500</text>
<text x="27" y="246.4" font-family="Liberation Sans, sans-serif" font-size="12.5" text-anchor="end" fill="#000" stroke="#000" stroke-width="0.2">700</text>
<text x="27" y="280.1" font-family="Liberation Sans, sans-serif" font-size="12.5" text-anchor="end" fill="#000" stroke="#000" stroke-width="0.2">850</text>
<text x="27" y="308.3" font-family="Liberation Sans, sans-serif" font-size="12.5" text-anchor="end" fill="#000" stroke="#000" stroke-width="0.2">1000</text>
<text x="39.9" y="325.8" font-family="Liberation Sans, sans-serif" font-size="12.5" text-anchor="end" fill="#000" stroke="#000" stroke-width="0.2">20</text>
<circle cx="42.25" cy="318.9" r="1.7" fill="none" stroke="#000" stroke-width="0.8"/>
<text x="44.95" y="325.8" font-family="Liberation Sans, sans-serif" font-size="12.5" fill="#000" stroke="#000" stroke-width="0.2">N</text>
<text x="86.4" y="325.8" font-family="Liberation Sans, sans-serif" font-size="12.5" text-anchor="end" fill="#000" stroke="#000" stroke-width="0.2">21</text>
<circle cx="88.73" cy="318.9" r="1.7" fill="none" stroke="#000" stroke-width="0.8"/>
<text x="91.43" y="325.8" font-family="Liberation Sans, sans-serif" font-size="12.5" fill="#000" stroke="#000" stroke-width="0.2">N</text>
<text x="132.9" y="325.8" font-family="Liberation Sans, sans-serif" font-size="12.5" text-anchor="end" fill="#000" stroke="#000" stroke-width="0.2">22</text>
<circle cx="135.22" cy="318.9" r="1.7" fill="none" stroke="#000" stroke-width="0.8"/>
<text x="137.92" y="325.8" font-family="Liberation Sans, sans-serif" font-size="12.5" fill="#000" stroke="#000" stroke-width="0.2">N</text>
<text x="179.4" y="325.8" font-family="Liberation Sans, sans-serif" font-size="12.5" text-anchor="end" fill="#000" stroke="#000" stroke-width="0.2">23</text>
<circle cx="181.70" cy="318.9" r="1.7" fill="none" stroke="#000" stroke-width="0.8"/>
<text x="184.40" y="325.8" font-family="Liberation Sans, sans-serif" font-size="12.5" fill="#000" stroke="#000" stroke-width="0.2">N</text>
<text x="225.8" y="325.8" font-family="Liberation Sans, sans-serif" font-size="12.5" text-anchor="end" fill="#000" stroke="#000" stroke-width="0.2">24</text>
<circle cx="228.18" cy="318.9" r="1.7" fill="none" stroke="#000" stroke-width="0.8"/>
<text x="230.88" y="325.8" font-family="Liberation Sans, sans-serif" font-size="12.5" fill="#000" stroke="#000" stroke-width="0.2">N</text>
<text x="272.3" y="325.8" font-family="Liberation Sans, sans-serif" font-size="12.5" text-anchor="end" fill="#000" stroke="#000" stroke-width="0.2">25</text>
<circle cx="274.67" cy="318.9" r="1.7" fill="none" stroke="#000" stroke-width="0.8"/>
<text x="277.37" y="325.8" font-family="Liberation Sans, sans-serif" font-size="12.5" fill="#000" stroke="#000" stroke-width="0.2">N</text>
<text x="318.8" y="325.8" font-family="Liberation Sans, sans-serif" font-size="12.5" text-anchor="end" fill="#000" stroke="#000" stroke-width="0.2">26</text>
<circle cx="321.15" cy="318.9" r="1.7" fill="none" stroke="#000" stroke-width="0.8"/>
<text x="323.85" y="325.8" font-family="Liberation Sans, sans-serif" font-size="12.5" fill="#000" stroke="#000" stroke-width="0.2">N</text>
<text x="380" y="29.1" font-family="Liberation Sans, sans-serif" font-size="12.5" text-anchor="end" fill="#000" stroke="#000" stroke-width="0.2">200</text>
<text x="380" y="67.8" font-family="Liberation Sans, sans-serif" font-size="12.5" text-anchor="end" fill="#000" stroke="#000" stroke-width="0.2">250</text>
<text x="380" y="99.4" font-family="Liberation Sans, sans-serif" font-size="12.5" text-anchor="end" fill="#000" stroke="#000" stroke-width="0.2">300</text>
<text x="380" y="149.3" font-family="Liberation Sans, sans-serif" font-size="12.5" text-anchor="end" fill="#000" stroke="#000" stroke-width="0.2">400</text>
<text x="380" y="188.1" font-family="Liberation Sans, sans-serif" font-size="12.5" text-anchor="end" fill="#000" stroke="#000" stroke-width="0.2">500</text>
<text x="380" y="246.4" font-family="Liberation Sans, sans-serif" font-size="12.5" text-anchor="end" fill="#000" stroke="#000" stroke-width="0.2">700</text>
<text x="380" y="280.1" font-family="Liberation Sans, sans-serif" font-size="12.5" text-anchor="end" fill="#000" stroke="#000" stroke-width="0.2">850</text>
<text x="380" y="308.3" font-family="Liberation Sans, sans-serif" font-size="12.5" text-anchor="end" fill="#000" stroke="#000" stroke-width="0.2">1000</text>
<text x="392.7" y="325.8" font-family="Liberation Sans, sans-serif" font-size="12.5" text-anchor="end" fill="#000" stroke="#000" stroke-width="0.2">20</text>
<circle cx="395.05" cy="318.9" r="1.7" fill="none" stroke="#000" stroke-width="0.8"/>
<text x="397.75" y="325.8" font-family="Liberation Sans, sans-serif" font-size="12.5" fill="#000" stroke="#000" stroke-width="0.2">N</text>
<text x="439.1" y="325.8" font-family="Liberation Sans, sans-serif" font-size="12.5" text-anchor="end" fill="#000" stroke="#000" stroke-width="0.2">21</text>
<circle cx="441.48" cy="318.9" r="1.7" fill="none" stroke="#000" stroke-width="0.8"/>
<text x="444.18" y="325.8" font-family="Liberation Sans, sans-serif" font-size="12.5" fill="#000" stroke="#000" stroke-width="0.2">N</text>
<text x="485.6" y="325.8" font-family="Liberation Sans, sans-serif" font-size="12.5" text-anchor="end" fill="#000" stroke="#000" stroke-width="0.2">22</text>
<circle cx="487.92" cy="318.9" r="1.7" fill="none" stroke="#000" stroke-width="0.8"/>
<text x="490.62" y="325.8" font-family="Liberation Sans, sans-serif" font-size="12.5" fill="#000" stroke="#000" stroke-width="0.2">N</text>
<text x="532.0" y="325.8" font-family="Liberation Sans, sans-serif" font-size="12.5" text-anchor="end" fill="#000" stroke="#000" stroke-width="0.2">23</text>
<circle cx="534.35" cy="318.9" r="1.7" fill="none" stroke="#000" stroke-width="0.8"/>
<text x="537.05" y="325.8" font-family="Liberation Sans, sans-serif" font-size="12.5" fill="#000" stroke="#000" stroke-width="0.2">N</text>
<text x="578.4" y="325.8" font-family="Liberation Sans, sans-serif" font-size="12.5" text-anchor="end" fill="#000" stroke="#000" stroke-width="0.2">24</text>
<circle cx="580.78" cy="318.9" r="1.7" fill="none" stroke="#000" stroke-width="0.8"/>
<text x="583.48" y="325.8" font-family="Liberation Sans, sans-serif" font-size="12.5" fill="#000" stroke="#000" stroke-width="0.2">N</text>
<text x="624.9" y="325.8" font-family="Liberation Sans, sans-serif" font-size="12.5" text-anchor="end" fill="#000" stroke="#000" stroke-width="0.2">25</text>
<circle cx="627.22" cy="318.9" r="1.7" fill="none" stroke="#000" stroke-width="0.8"/>
<text x="629.92" y="325.8" font-family="Liberation Sans, sans-serif" font-size="12.5" fill="#000" stroke="#000" stroke-width="0.2">N</text>
<text x="671.3" y="325.8" font-family="Liberation Sans, sans-serif" font-size="12.5" text-anchor="end" fill="#000" stroke="#000" stroke-width="0.2">26</text>
<circle cx="673.65" cy="318.9" r="1.7" fill="none" stroke="#000" stroke-width="0.8"/>
<text x="676.35" y="325.8" font-family="Liberation Sans, sans-serif" font-size="12.5" fill="#000" stroke="#000" stroke-width="0.2">N</text>
<text x="40.15" y="11.3" font-family="Liberation Serif, serif" font-size="14" textLength="15.70" lengthAdjust="spacingAndGlyphs" fill="#000" stroke="#000" stroke-width="0.25">(a)</text>
<text x="62.15" y="11.3" font-family="Liberation Serif, serif" font-size="14" textLength="71.40" lengthAdjust="spacingAndGlyphs" fill="#000" stroke="#000" stroke-width="0.25">Regresstion</text>
<text x="139.45" y="11.3" font-family="Liberation Serif, serif" font-size="14" textLength="12.80" lengthAdjust="spacingAndGlyphs" fill="#000" stroke="#000" stroke-width="0.25">of</text>
<text x="157.45" y="11.3" font-family="Liberation Serif, serif" font-size="14" textLength="23.10" lengthAdjust="spacingAndGlyphs" fill="#000" stroke="#000" stroke-width="0.25">WV</text>
<text x="186.95" y="11.3" font-family="Liberation Serif, serif" font-size="14" textLength="42.20" lengthAdjust="spacingAndGlyphs" fill="#000" stroke="#000" stroke-width="0.25">section</text>
<text x="234.95" y="11.3" font-family="Liberation Serif, serif" font-size="14" textLength="26.10" lengthAdjust="spacingAndGlyphs" fill="#000" stroke="#000" stroke-width="0.25">onto</text>
<text x="267.15" y="11.3" font-family="Liberation Serif, serif" font-size="14" textLength="42.60" lengthAdjust="spacingAndGlyphs" fill="#000" stroke="#000" stroke-width="0.25">P-ERA</text>
<text x="391.75" y="11.3" font-family="Liberation Serif, serif" font-size="14" textLength="16.60" lengthAdjust="spacingAndGlyphs" fill="#000" stroke="#000" stroke-width="0.25">(b)</text>
<text x="415.05" y="11.3" font-family="Liberation Serif, serif" font-size="14" textLength="71.40" lengthAdjust="spacingAndGlyphs" fill="#000" stroke="#000" stroke-width="0.25">Regresstion</text>
<text x="492.05" y="11.3" font-family="Liberation Serif, serif" font-size="14" textLength="12.50" lengthAdjust="spacingAndGlyphs" fill="#000" stroke="#000" stroke-width="0.25">of</text>
<text x="509.55" y="11.3" font-family="Liberation Serif, serif" font-size="14" textLength="23.60" lengthAdjust="spacingAndGlyphs" fill="#000" stroke="#000" stroke-width="0.25">WV</text>
<text x="539.25" y="11.3" font-family="Liberation Serif, serif" font-size="14" textLength="42.60" lengthAdjust="spacingAndGlyphs" fill="#000" stroke="#000" stroke-width="0.25">section</text>
<text x="587.45" y="11.3" font-family="Liberation Serif, serif" font-size="14" textLength="25.80" lengthAdjust="spacingAndGlyphs" fill="#000" stroke="#000" stroke-width="0.25">onto</text>
<text x="619.05" y="11.3" font-family="Liberation Serif, serif" font-size="14" textLength="7.20" lengthAdjust="spacingAndGlyphs" fill="#000" stroke="#000" stroke-width="0.25">P</text>
<text x="632.25" y="11.3" font-family="Liberation Serif, serif" font-size="14" textLength="28.30" lengthAdjust="spacingAndGlyphs" fill="#000" stroke="#000" stroke-width="0.25">-S2S</text>
<text x="275.2" y="300.5" font-family="Liberation Sans, sans-serif" font-size="10" textLength="36" lengthAdjust="spacingAndGlyphs" fill="#000">0.05 m/s</text>
<text x="628" y="300.5" font-family="Liberation Sans, sans-serif" font-size="10" textLength="36" lengthAdjust="spacingAndGlyphs" fill="#000">0.05 m/s</text>
</svg></body></html>
